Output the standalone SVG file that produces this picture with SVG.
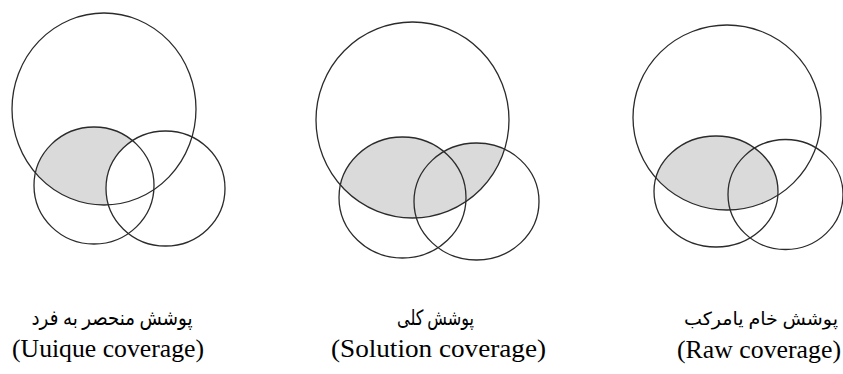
<svg xmlns="http://www.w3.org/2000/svg" width="843" height="374" viewBox="0 0 843 374">
<style>
.c{fill:none;stroke:#2b2b2b;stroke-width:1.3}
.sh{fill:#dadada;stroke:none}
.wh{fill:#ffffff;stroke:none}
.fa{font-family:"Liberation Serif","DejaVu Sans","Noto Sans",serif;font-size:21px;fill:#000;text-anchor:middle}
.en{font-family:"Liberation Serif","Times New Roman",serif;font-size:25px;fill:#000;text-anchor:middle}
</style>
<defs>
<clipPath id="b1"><ellipse cx="104" cy="109" rx="92" ry="96"/></clipPath>
<clipPath id="b2"><ellipse cx="412.5" cy="120" rx="96.5" ry="98"/></clipPath>
<clipPath id="b3"><ellipse cx="727" cy="117.5" rx="94" ry="92.5"/></clipPath>
</defs>
<rect width="843" height="374" fill="#fff"/>
<g id="unique">
<g clip-path="url(#b1)">
<ellipse class="sh" cx="94" cy="185.5" rx="60" ry="58.5"/>
<ellipse class="wh" cx="165.5" cy="188.5" rx="59.5" ry="57.5"/>
</g>
<ellipse class="c" cx="104" cy="109" rx="92" ry="96"/>
<ellipse class="c" cx="94" cy="185.5" rx="60" ry="58.5"/>
<ellipse class="c" cx="165.5" cy="188.5" rx="59.5" ry="57.5"/>
<text class="fa" x="112" y="325" direction="rtl" textLength="161" lengthAdjust="spacingAndGlyphs">پوشش منحصر به فرد</text>
<text class="en" x="108" y="357" textLength="192" lengthAdjust="spacingAndGlyphs">(Uuique coverage)</text>
</g>
<g id="solution">
<g clip-path="url(#b2)">
<ellipse class="sh" cx="402.5" cy="197.5" rx="63.5" ry="60.5"/>
<ellipse class="sh" cx="476.5" cy="201.5" rx="62.5" ry="58.5"/>
</g>
<ellipse class="c" cx="412.5" cy="120" rx="96.5" ry="98"/>
<ellipse class="c" cx="402.5" cy="197.5" rx="63.5" ry="60.5"/>
<ellipse class="c" cx="476.5" cy="201.5" rx="62.5" ry="58.5"/>
<text class="fa" x="435.5" y="325" direction="rtl" textLength="77" lengthAdjust="spacingAndGlyphs">پوشش کلی</text>
<text class="en" x="438.5" y="357" textLength="215" lengthAdjust="spacingAndGlyphs">(Solution coverage)</text>
</g>
<g id="raw">
<g clip-path="url(#b3)">
<ellipse class="sh" cx="716" cy="191.5" rx="62" ry="55.5"/>
</g>
<ellipse class="c" cx="727" cy="117.5" rx="94" ry="92.5"/>
<ellipse class="c" cx="716" cy="191.5" rx="62" ry="55.5"/>
<ellipse class="c" cx="785.5" cy="194.5" rx="57.5" ry="55"/>
<text class="fa" x="761" y="325" direction="rtl" style="font-size:18px" textLength="154" lengthAdjust="spacingAndGlyphs">پوشش خام یامرکب</text>
<text class="en" x="759" y="358" textLength="164" lengthAdjust="spacingAndGlyphs">(Raw coverage)</text>
</g>
</svg>
